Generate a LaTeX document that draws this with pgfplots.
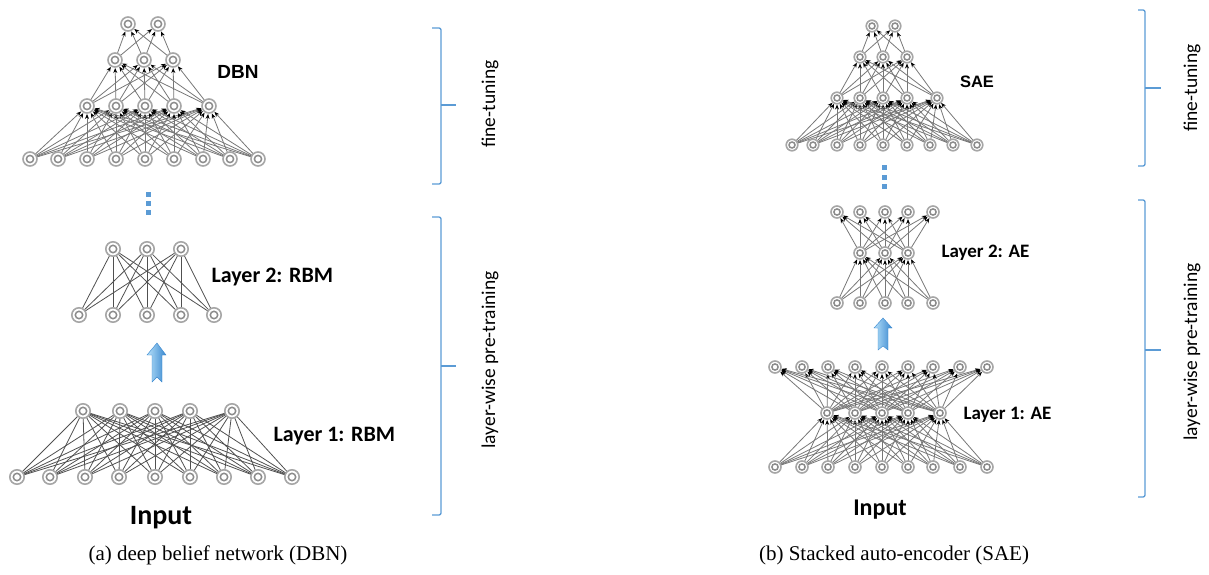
\documentclass[border=0pt]{standalone}
\usepackage{pgfplots}
\pgfplotsset{compat=1.18}
\usepackage{fontspec}
\setmainfont{Carlito}
\newfontfamily\capfont{Liberation Serif}
\newfontfamily\arialfont{Liberation Sans}
\usetikzlibrary{arrows.meta}

\definecolor{bracket}{HTML}{5B9BD5}
\definecolor{ring}{HTML}{A6A6A6}
\definecolor{ringin}{HTML}{8C8C8C}
\definecolor{edge}{HTML}{777777}
\definecolor{rbmedge}{HTML}{505050}
\definecolor{arrowhi}{HTML}{B5E0FA}
\definecolor{arrowlo}{HTML}{3A88CF}

\pgfplotsset{
  link/.style={no markers, draw=edge, line width=0.8pt},
  rbmlink/.style={no markers, draw=rbmedge, line width=0.8pt},
  uplink/.style={link, -{Stealth[length=5pt,width=4pt,black]}},
  brk/.style={no markers, draw=bracket, line width=1.3pt},
}

% join every x of list #1 (at height #2) with every x of list #3 (at height #4)
\newcommand\connect[5]{%
  \foreach \a in #1{\foreach \b in #3{%
    \edef\tmp{\noexpand\addplot[#5] coordinates {(\a,#2) (\b,#4)};}\tmp}}}
% one row of units: x list, y, outer and inner ring radius
\newcommand\units[4]{%
  \foreach \a in #1{%
    \edef\tmp{\noexpand\addplot[only marks, mark=*, mark size=#3pt,
      mark options={fill=white, draw=ring, line width=1.6pt}] coordinates {(\a,#2)};
      \noexpand\addplot[only marks, mark=o, mark size=#4pt,
      mark options={draw=ringin, line width=1.5pt}] coordinates {(\a,#2)};}\tmp}}

% rows of units, x positions in pixels
\def\dbnA{30,58,87,116,145,174,203,230,258}
\def\dbnB{87,116,145,174,209}
\def\dbnC{115,144,173}
\def\dbnD{128,158}
\def\rbmTwoTop{113,147,181}
\def\rbmTwoBot{79,113,147,181,214}
\def\rbmOneTop{83,120,155,190,232}
\def\rbmOneBot{17,50,85,119,155,190,224,258,292}
\def\saeA{792,813,837,860,883,907,930,953,977}
\def\saeB{837,860,883,907,937}
\def\saeC{860,883,907}
\def\saeD{872,895}
\def\aeTwoOut{837,860,885,908,933}
\def\aeTwoMid{860,885,908}
\def\aeOneOut{775,802,828,855,882,908,933,960,987}
\def\aeOneMid{827,855,882,908,940}

\begin{document}
\begin{tikzpicture}
\begin{axis}[
    width=1209pt, height=575pt, scale only axis,
    xmin=0, xmax=1209, ymin=0, ymax=575,
    y dir=reverse, hide axis, clip=false,
]
\addplot[draw=none, no markers] coordinates {(0,0) (1209,575)};

% ---- (a) DBN ----
\connect\dbnA{159}\dbnB{106}{uplink, shorten >=8pt}
\connect\dbnB{106}\dbnC{60}{uplink, shorten >=8pt}
\connect\dbnC{60}\dbnD{24}{uplink, shorten >=8pt}
\units\dbnA{159}{7}{3.6}
\units\dbnB{106}{7}{3.6}
\units\dbnC{60}{7}{3.6}
\units\dbnD{24}{7}{3.6}

\connect\rbmTwoBot{315}\rbmTwoTop{249}{rbmlink}
\units\rbmTwoTop{249}{7.2}{3.7}
\units\rbmTwoBot{315}{7.2}{3.7}

\connect\rbmOneBot{477}\rbmOneTop{411}{rbmlink}
\units\rbmOneTop{411}{7.2}{3.7}
\units\rbmOneBot{477}{7.2}{3.7}

\addplot[only marks, mark=square*, mark size=2pt, color=bracket]
  coordinates {(148,194) (148,203) (148,212)};
\addplot[draw=arrowlo, line width=0.4pt, left color=arrowhi, right color=arrowlo]
  coordinates {(157,343) (166,355) (162,355) (162,382) (157,377) (152,382) (152,355) (147,355)} --cycle;

\node[font=\arialfont\bfseries\fontsize{19}{21}\selectfont] at (axis cs:238,72) {DBN};
\node[anchor=west, font=\bfseries\fontsize{22}{24}\selectfont] at (axis cs:208,277) {Layer 2: RBM};
\node[anchor=west, font=\bfseries\fontsize{22}{24}\selectfont] at (axis cs:270,436) {Layer 1: RBM};
\node[font=\bfseries\fontsize{28}{30}\selectfont] at (axis cs:161,518) {Input};

\addplot[brk, rounded corners=2pt] coordinates {(432,28) (441,28) (441,184) (432,184)};
\addplot[brk] coordinates {(441,105) (456,105)};
\addplot[brk, rounded corners=2pt] coordinates {(432,217) (441,217) (441,515) (432,515)};
\addplot[brk] coordinates {(441,366) (456,366)};
\node[rotate=90, font=\fontsize{19.5}{21}\selectfont] at (axis cs:490,104) {fine-tuning};
\node[rotate=90, font=\fontsize{19.5}{21}\selectfont] at (axis cs:490,360) {layer-wise pre-training};

\node[font=\capfont\fontsize{21}{23}\selectfont] at (axis cs:218,555) {(a) deep belief network (DBN)};

% ---- (b) SAE ----
\connect\saeA{145}\saeB{98}{uplink, shorten >=6.5pt}
\connect\saeB{98}\saeC{57}{uplink, shorten >=6.5pt}
\connect\saeC{57}\saeD{26}{uplink, shorten >=6.5pt}
\units\saeA{145}{5.8}{3}
\units\saeB{98}{5.8}{3}
\units\saeC{57}{5.8}{3}
\units\saeD{26}{5.8}{3}

\connect\aeTwoOut{303}\aeTwoMid{253}{uplink, shorten >=7pt}
\connect\aeTwoMid{253}\aeTwoOut{212}{uplink, shorten >=7pt}
\units\aeTwoOut{212}{6}{3.1}
\units\aeTwoMid{253}{6}{3.1}
\units\aeTwoOut{303}{6}{3.1}

\connect\aeOneOut{467}\aeOneMid{413}{uplink, shorten >=7pt}
\connect\aeOneMid{413}\aeOneOut{367}{uplink, shorten >=7pt}
\units\aeOneOut{367}{6}{3.1}
\units\aeOneMid{413}{6}{3.1}
\units\aeOneOut{467}{6}{3.1}

\addplot[only marks, mark=square*, mark size=2pt, color=bracket]
  coordinates {(884,167) (884,177) (884,186)};
\addplot[draw=arrowlo, line width=0.4pt, left color=arrowhi, right color=arrowlo]
  coordinates {(883,318) (892,328) (888,328) (888,350) (883,346) (878,350) (878,328) (874,328)} --cycle;

\node[font=\arialfont\bfseries\fontsize{16.5}{18}\selectfont] at (axis cs:977,82) {SAE};
\node[anchor=west, font=\bfseries\fontsize{19}{21}\selectfont] at (axis cs:938,253) {Layer 2: AE};
\node[anchor=west, font=\bfseries\fontsize{19}{21}\selectfont] at (axis cs:960,415) {Layer 1: AE};
\node[font=\bfseries\fontsize{24}{26}\selectfont] at (axis cs:880,510) {Input};

\addplot[brk, rounded corners=2pt] coordinates {(1138,10) (1145,10) (1145,166) (1138,166)};
\addplot[brk] coordinates {(1145,88) (1161,88)};
\addplot[brk, rounded corners=2pt] coordinates {(1138,200) (1145,200) (1145,497) (1138,497)};
\addplot[brk] coordinates {(1145,350) (1161,350)};
\node[rotate=90, font=\fontsize{19.5}{21}\selectfont] at (axis cs:1192,88) {fine-tuning};
\node[rotate=90, font=\fontsize{19.5}{21}\selectfont] at (axis cs:1192,352) {layer-wise pre-training};

\node[font=\capfont\fontsize{21}{23}\selectfont] at (axis cs:894,555) {(b) Stacked auto-encoder (SAE)};
\end{axis}
\end{tikzpicture}
\end{document}
